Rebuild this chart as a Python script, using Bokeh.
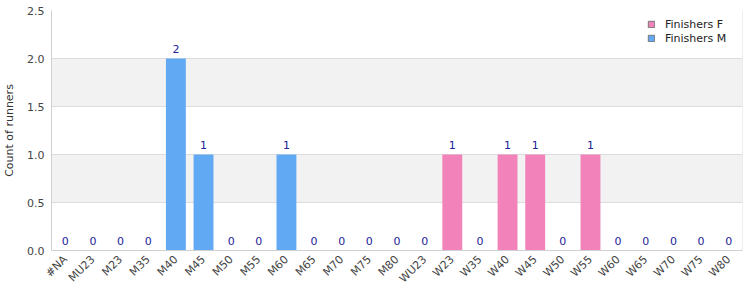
import math
from bokeh.plotting import figure
from bokeh.models import (ColumnDataSource, FactorRange, Legend, LegendItem, NumeralTickFormatter,
                          SingleIntervalTicker, Span)
from bokeh.embed import file_html
from bokeh.resources import INLINE
from bokeh.core.properties import value

categories = ["#NA", "MU23", "M23", "M35", "M40", "M45", "M50", "M55", "M60", "M65", "M70", "M75", "M80",
              "WU23", "W23", "W35", "W40", "W45", "W50", "W55", "W60", "W65", "W70", "W75", "W80"]
finishers_m = [0, 0, 0, 0, 2, 1, 0, 0, 1, 0, 0, 0, 0, 0, 0, 0, 0, 0, 0, 0, 0, 0, 0, 0, 0]
finishers_f = [0, 0, 0, 0, 0, 0, 0, 0, 0, 0, 0, 0, 0, 0, 1, 0, 1, 1, 0, 1, 0, 0, 0, 0, 0]

color_m = "#62a9f3"
color_f = "#f283ba"
FONT = "DejaVu Sans"
BORDER = "#dddddd"

labels = [str(f if c.startswith("W") else m) for c, m, f in zip(categories, finishers_m, finishers_f)]
label_vals = [f if c.startswith("W") else m for c, m, f in zip(categories, finishers_m, finishers_f)]

src_m = ColumnDataSource(dict(x=categories, top=finishers_m))
src_f = ColumnDataSource(dict(x=categories, top=finishers_f))
src_lab = ColumnDataSource(dict(x=categories, y=label_vals, t=labels))

p = figure(width=750, height=300, x_range=FactorRange(*categories), y_range=(0, 2.5),
           output_backend="svg", toolbar_location=None,
           min_border_left=50, min_border_right=9, min_border_top=10, min_border_bottom=50)
p.frame_width = 691
p.frame_height = 240

p.vbar(x="x", top="top", width=0.72, source=src_m, fill_color=color_m, line_color=None)
p.vbar(x="x", top="top", width=0.72, source=src_f, fill_color=color_f, line_color=None)

p.text(x="x", y="y", text="t", source=src_lab, text_align="center", text_baseline="bottom",
       y_offset=-6, text_color="#22229a", text_font=value(FONT), text_font_size="11px")

# right frame border (drawn before the legend so the legend sits on top)
p.add_layout(Span(location=len(categories), dimension="height", line_color=BORDER, line_width=1))

# legend-only renderers (placed below the visible y range)
rf = p.vbar(x=[categories[0]], bottom=[-10], top=[-9], width=0.5, fill_color=color_f, line_color="#777777")
rm = p.vbar(x=[categories[0]], bottom=[-10], top=[-9], width=0.5, fill_color=color_m, line_color="#777777")
legend = Legend(items=[LegendItem(label="Finishers F", renderers=[rf]),
                       LegendItem(label="Finishers M", renderers=[rm])],
                location=(596, 205), orientation="vertical",
                glyph_width=8, glyph_height=8, label_text_font=FONT, label_text_font_size="11px",
                label_text_color="#222222", spacing=0, padding=2, margin=0,
                border_line_color=None, background_fill_color="white", background_fill_alpha=1.0,
                label_standoff=10, label_height=14)
p.add_layout(legend, "center")

p.outline_line_color = None
p.xgrid.grid_line_color = None
p.ygrid.grid_line_color = BORDER
p.ygrid.band_fill_color = "#f2f2f2"
p.ygrid.band_fill_alpha = 1.0

p.yaxis.ticker = SingleIntervalTicker(interval=0.5)
p.yaxis.formatter = NumeralTickFormatter(format="0.0")
p.yaxis.axis_label = "Count of runners"
p.yaxis.axis_label_text_font = FONT
p.yaxis.axis_label_text_font_style = "normal"
p.yaxis.axis_label_text_font_size = "11px"
p.yaxis.axis_label_text_color = "#333333"
p.yaxis.axis_label_standoff = 8

for ax in (p.xaxis, p.yaxis):
    ax.major_label_text_font = FONT
    ax.major_label_text_font_size = "11px"
    ax.major_label_text_color = "#444444"
    ax.major_tick_line_color = None
    ax.minor_tick_line_color = None
    ax.major_tick_out = 0
    ax.major_tick_in = 0
    ax.minor_tick_out = 0
    ax.minor_tick_in = 0
    ax.axis_line_color = "#d0d0d0"

p.xaxis.major_label_orientation = math.pi / 4
p.yaxis.major_label_standoff = 7
p.xaxis.major_label_standoff = 7
p.x_range.range_padding = 0
p.x_range.factor_padding = 0

open("out.html", "w").write(file_html(p, INLINE))
